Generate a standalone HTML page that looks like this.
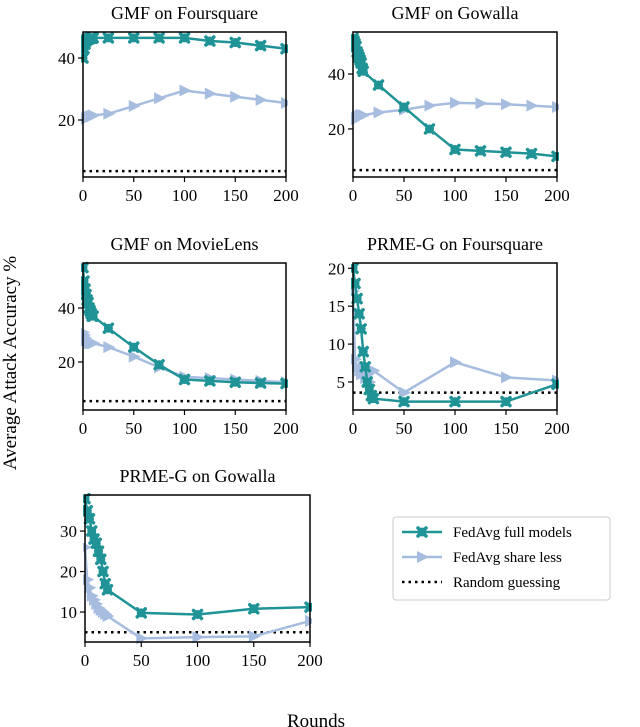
<!DOCTYPE html>
<html><head><meta charset="utf-8"><style>
html,body{margin:0;padding:0;background:#fff}
svg{display:block;font-family:"Liberation Serif",serif}
</style></head><body>
<svg id="fig" width="640" height="727" viewBox="0 0 640 727"></svg>
<script>
const fx1=[0,1,2,3,4,5,6,7,8,9,10,25,50,75,100,125,150,175,200];
const fx2=[0,2,4,6,8,10,12,14,16,18,20,50,100,150,200];
const gfFull=[40,43,44.5,45.5,46,46,46.2,46.3,46.4,46.4,46.5,46.5,46.5,46.5,46.5,45.5,45,44,43];
const gfLess=[20,20.2,20.4,20.5,20.6,20.8,21,21,21.2,21.3,21.5,22,24.5,27,29.5,28.5,27.5,26.5,25.5];
const ggFull=[53,52,51,50,48,47,46,45,44,42,41,36,28,20,12.5,12,11.5,11,10];
const ggLess=[23,23.5,24,24,24.5,24.5,24.5,25,25,25,25,26,27,28.5,29.5,29.3,29,28.5,28];
const gmFull=[55,50,47,45,43,42,40,39,38,37,37,32.5,25.5,19,13.5,13,12.5,12.2,12];
const gmLess=[31,30,29,28,28,27.5,27,27,27,27,27,25.5,22,18,14.5,14,13.5,13,12.5];
const pfFull=[20,18,16,14,12,9,7,5,4,3.2,2.8,2.4,2.4,2.4,4.7];
const pfLess=[17,8,7,6.5,6,7,5.5,6,5,6.5,6.5,3.6,7.6,5.6,5.2];
const pgFull=[38,35,33,30,28,27,25,23,20,17,15.5,9.8,9.4,10.8,11.2];
const pgLess=[26,18,16,14,13,12,11,10.5,10,9.5,9,3.5,3.8,4,7.8];
const randoms=[3.5,5,5.5,3.6,5];
const xTicks=[0,50,100,150,200];

const TEAL="#1f9396", BLUE="#a6bde0";
const svg=document.getElementById('fig');
const NS="http://www.w3.org/2000/svg";
function el(tag,attrs,parent){const e=document.createElementNS(NS,tag);for(const k in attrs)e.setAttribute(k,attrs[k]);(parent||svg).appendChild(e);return e;}

const panels=[
 {title:"GMF on Foursquare",L:83,R:286,T:32,B:177,ymin:1.6,ymax:48.4,yt:[20,40],xs:fx1,full:gfFull,less:gfLess,rnd:randoms[0]},
 {title:"GMF on Gowalla",L:353,R:557,T:32,B:177,ymin:2.5,ymax:55.3,yt:[20,40],xs:fx1,full:ggFull,less:ggLess,rnd:randoms[1]},
 {title:"GMF on MovieLens",L:83,R:286,T:263,B:410,ymin:2.2,ymax:56.7,yt:[20,40],xs:fx1,full:gmFull,less:gmLess,rnd:randoms[2]},
 {title:"PRME-G on Foursquare",L:353,R:557,T:263,B:410,ymin:1.3,ymax:20.7,yt:[5,10,15,20],xs:fx2,full:pfFull,less:pfLess,rnd:randoms[3]},
 {title:"PRME-G on Gowalla",L:85,R:310,T:495,B:642,ymin:2.6,ymax:38.9,yt:[10,20,30],xs:fx2,full:pgFull,less:pgLess,rnd:randoms[4]}
];
function xMark(g,x,y,c){
 const s=4;
 const p=el('path',{d:`M${x-s},${y-s}L${x+s},${y+s}M${x-s},${y+s}L${x+s},${y-s}`,stroke:c,'stroke-width':3.5,'stroke-linecap':'round',fill:'none'},g);
 el('circle',{cx:x,cy:y,r:4.5,fill:c},g);
 return p;
}
function tri(g,x,y,c){
 return el('path',{d:`M${x-5},${y-6}L${x+7},${y}L${x-5},${y+6}Z`,fill:c},g);
}
panels.forEach((p,i)=>{
 const g=el('g',{});
 
 
 const sx=v=>p.L+(v/200)*(p.R-p.L);
 const sy=v=>p.B-(v-p.ymin)/(p.ymax-p.ymin)*(p.B-p.T);
 const cp='cp'+i;
 const cl=el('clipPath',{id:cp},g);el('rect',{x:p.L-2,y:p.T-2,width:p.R-p.L+4,height:p.B-p.T+4},cl);
 const t=el('text',{x:(p.L+p.R)/2,y:p.T-13,'text-anchor':'middle','font-size':18,fill:'#000'},g);t.textContent=p.title;
 
 const dg=el('g',{'clip-path':`url(#${cp})`},g);
 const rl=el('line',{x1:p.L,x2:p.R,y1:sy(p.rnd),y2:sy(p.rnd),stroke:'#000','stroke-width':2.5,'stroke-dasharray':'2.5,4'},dg);
 
 const lp=el('polyline',{points:p.xs.map((x,j)=>sx(x)+','+sy(p.less[j])).join(' '),fill:'none',stroke:BLUE,'stroke-width':2.5},dg);
 
 p.xs.forEach((x,j)=>{const m=tri(dg,sx(x),sy(p.less[j]),BLUE);});
 const fp=el('polyline',{points:p.xs.map((x,j)=>sx(x)+','+sy(p.full[j])).join(' '),fill:'none',stroke:TEAL,'stroke-width':2.5},dg);
 
 p.xs.forEach((x,j)=>{const m=xMark(dg,sx(x),sy(p.full[j]),TEAL);});
 const box=el('rect',{x:p.L,y:p.T,width:p.R-p.L,height:p.B-p.T,fill:'none',stroke:'#000','stroke-width':1.5},g);
 
 xTicks.forEach(v=>{el('line',{x1:sx(v),x2:sx(v),y1:p.B,y2:p.B+5,stroke:'#000','stroke-width':1.2},g);
  const tx=el('text',{x:sx(v),y:p.B+24,'text-anchor':'middle','font-size':17},g);tx.textContent=v;
  });
 p.yt.forEach(v=>{el('line',{x1:p.L-5,x2:p.L,y1:sy(v),y2:sy(v),stroke:'#000','stroke-width':1.2},g);
  const ty=el('text',{x:p.L-8,y:sy(v)+6,'text-anchor':'end','font-size':17},g);ty.textContent=v;
  });
});
const lg=el('g',{});

el('rect',{x:393,y:517,width:217,height:83,rx:3,fill:'#fff',stroke:'#ccc','stroke-width':1},lg);
const items=[["FedAvg full models",'full'],["FedAvg share less",'less'],["Random guessing",'rnd']];
items.forEach((it,k)=>{const y=532+k*25;
 const e=el('g',{},lg);
 if(it[1]=='rnd') el('line',{x1:402,x2:442,y1:y,y2:y,stroke:'#000','stroke-width':2.5,'stroke-dasharray':'2.5,4'},e);
 else { el('line',{x1:402,x2:442,y1:y,y2:y,stroke:it[1]=='full'?TEAL:BLUE,'stroke-width':2.5},e);
   if(it[1]=='full') xMark(e,422,y,TEAL); else tri(e,422,y,BLUE);}
 const t=el('text',{x:453,y:y+5,'font-size':15},e);t.textContent=it[0];});
const yl=el('text',{x:16,y:363,'text-anchor':'middle','font-size':19,transform:'rotate(-90 16 363)'});yl.textContent="Average Attack Accuracy %";

const xl=el('text',{x:316,y:727,'text-anchor':'middle','font-size':19});xl.textContent="Rounds";

</script>
</body></html>
